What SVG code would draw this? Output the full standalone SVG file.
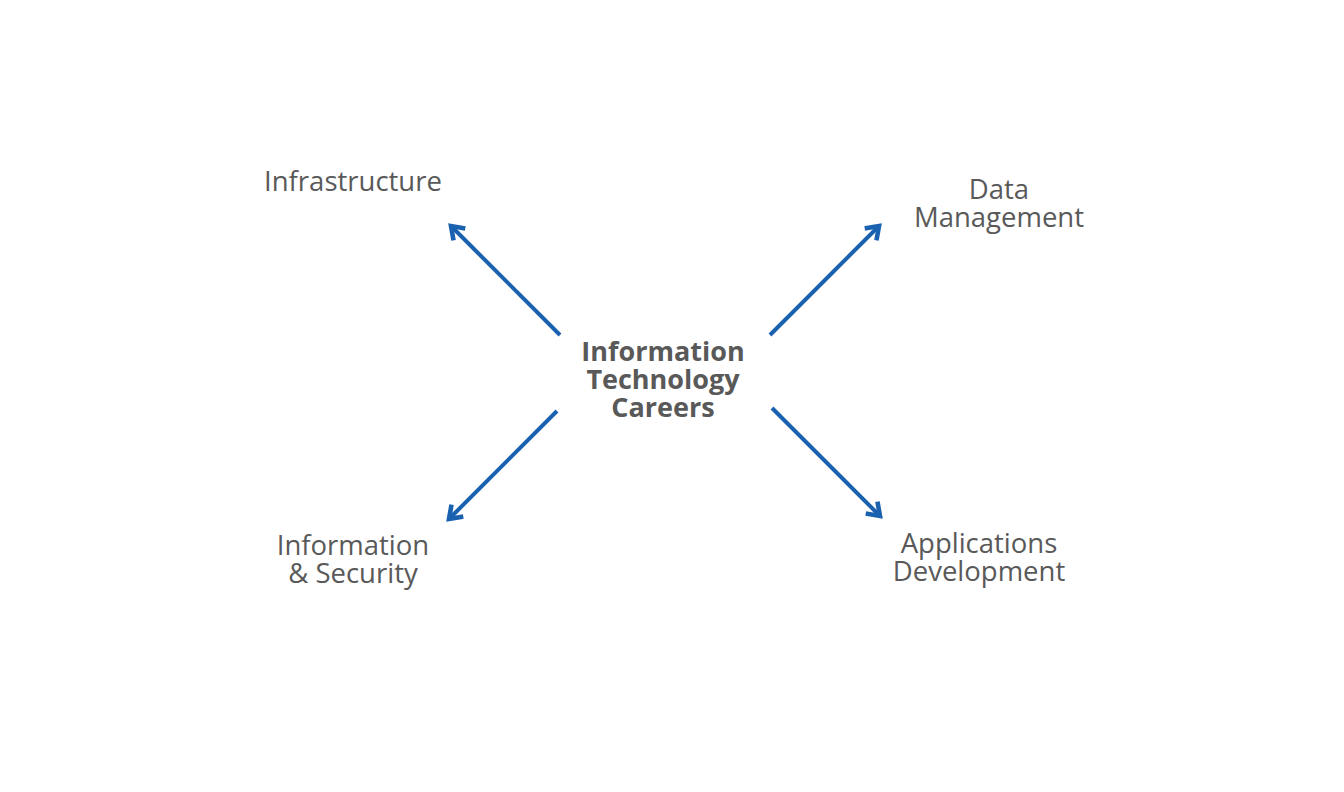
<svg xmlns="http://www.w3.org/2000/svg" width="1344" height="792" viewBox="0 0 1344 792">
<style>
.lbl{font-family:"Open Sans","Noto Sans",sans-serif;font-size:27.5px;fill:#595959;text-anchor:middle}
.ctr{font-family:"Open Sans","Noto Sans",sans-serif;font-size:27px;font-weight:bold;fill:#595959;text-anchor:middle}
.arr{stroke:#1a62b0;stroke-width:4;fill:none;marker-end:url(#head)}
</style>
<defs>
<marker id="head" viewBox="0 0 10 10" refX="7.5" refY="5" markerWidth="5" markerHeight="5" orient="auto" markerUnits="strokeWidth">
<path d="M2.5,1.5 L7.5,5 L2.5,8.5" fill="none" stroke="#1a62b0" stroke-width="2.3" stroke-linecap="square" stroke-linejoin="miter"/>
</marker>
</defs>
<rect width="1344" height="792" fill="#fff"/>
<g id="connectors">
<line class="arr" x1="560" y1="335" x2="451" y2="226"/>
<line class="arr" x1="770" y1="335" x2="879" y2="226"/>
<line class="arr" x1="557" y1="411" x2="449" y2="519"/>
<line class="arr" x1="772" y1="408" x2="880" y2="516"/>
</g>
<g id="center"><text class="ctr" x="663" y="361">Information</text><text class="ctr" x="663" y="389">Technology</text><text class="ctr" x="663" y="417">Careers</text></g>
<g id="infrastructure"><text class="lbl" x="353" y="191">Infrastructure</text></g>
<g id="data"><text class="lbl" x="999" y="199">Data</text><text class="lbl" x="999" y="227">Management</text></g>
<g id="security"><text class="lbl" x="353" y="555">Information</text><text class="lbl" x="353" y="583">&amp; Security</text></g>
<g id="apps"><text class="lbl" x="979" y="553">Applications</text><text class="lbl" x="979" y="581">Development</text></g>
</svg>
